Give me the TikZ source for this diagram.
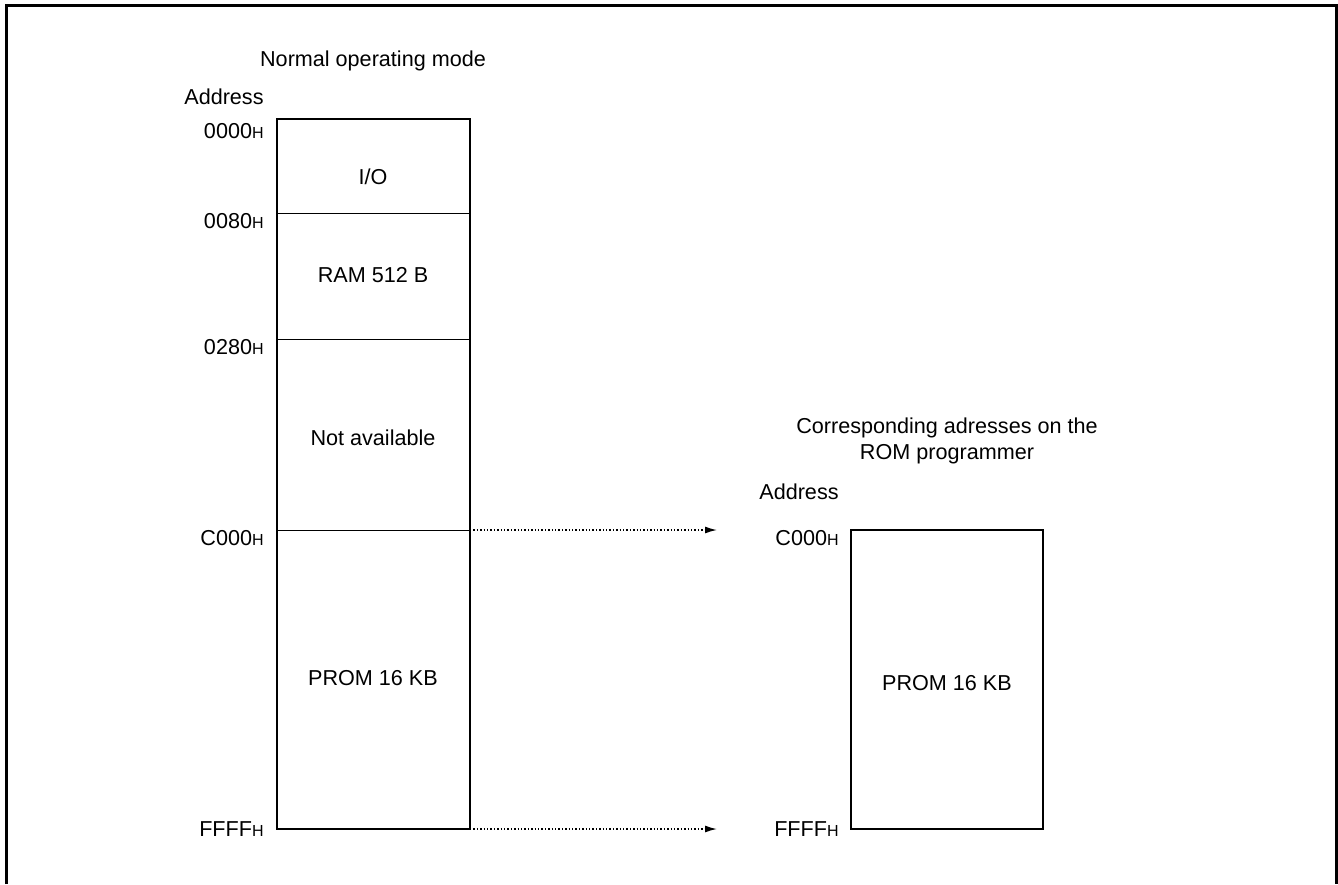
\documentclass[tikz,border=0pt]{standalone}
\usepackage{fontspec}
\setmainfont{Liberation Sans}
\usetikzlibrary{arrows.meta}
\newcommand{\hx}{{\fontsize{8}{9}\selectfont H}}
\begin{document}
\begin{tikzpicture}[x=0.5pt,y=-0.5pt,
    font=\fontsize{10.8}{13}\selectfont,
    addr/.style={anchor=east,inner sep=0pt},
    mapline/.style={line width=0.7pt,dash pattern=on 0.7pt off 1pt,-{Latex[length=6pt,width=3.5pt]}}]
\useasboundingbox (0,0) rectangle (1338,884);
\draw[line width=1.5pt] (6,884) -- (6,5) -- (1336,5) -- (1336,884);
% normal operating mode
\node (title) at (373,61) {Normal operating mode};
\node[addr] (addrL) at (264,97) {Address};
\draw[line width=0.5pt] (277,213) -- (470,213)
                        (277,339) -- (470,339)
                        (277,530) -- (470,530);
\draw[line width=1pt] (277,119) rectangle (470,829);
\coordinate (c000L) at (470,530);
\coordinate (ffffL) at (470,829);
\node (io)    at (373,177) {I/O};
\node (ram)   at (373,275) {RAM 512 B};
\node (na)    at (373,438) {Not available};
\node (prom)  at (373,678) {PROM 16 KB};
\node[addr] (a0000) at (264,131) {0000\hx};
\node[addr] (a0080) at (264,221) {0080\hx};
\node[addr] (a0280) at (264,347) {0280\hx};
\node[addr] (ac000) at (264,538) {C000\hx};
\node[addr] (affff) at (264,829) {FFFF\hx};
% ROM programmer
\node[align=center] (title2) at (947,441) {Corresponding adresses on the\\ROM programmer};
\node[addr] (addrR) at (839,492) {Address};
\draw[line width=1pt] (851,530) rectangle (1043,829);
\coordinate (c000R) at (717,530);
\coordinate (ffffR) at (717,829);
\node (prom2) at (947,683) {PROM 16 KB};
\node[addr] (bc000) at (839,538) {C000\hx};
\node[addr] (bffff) at (839,829) {FFFF\hx};
\draw[mapline] (c000L) -- (c000R);
\draw[mapline] (ffffL) -- (ffffR);
\end{tikzpicture}
\end{document}
